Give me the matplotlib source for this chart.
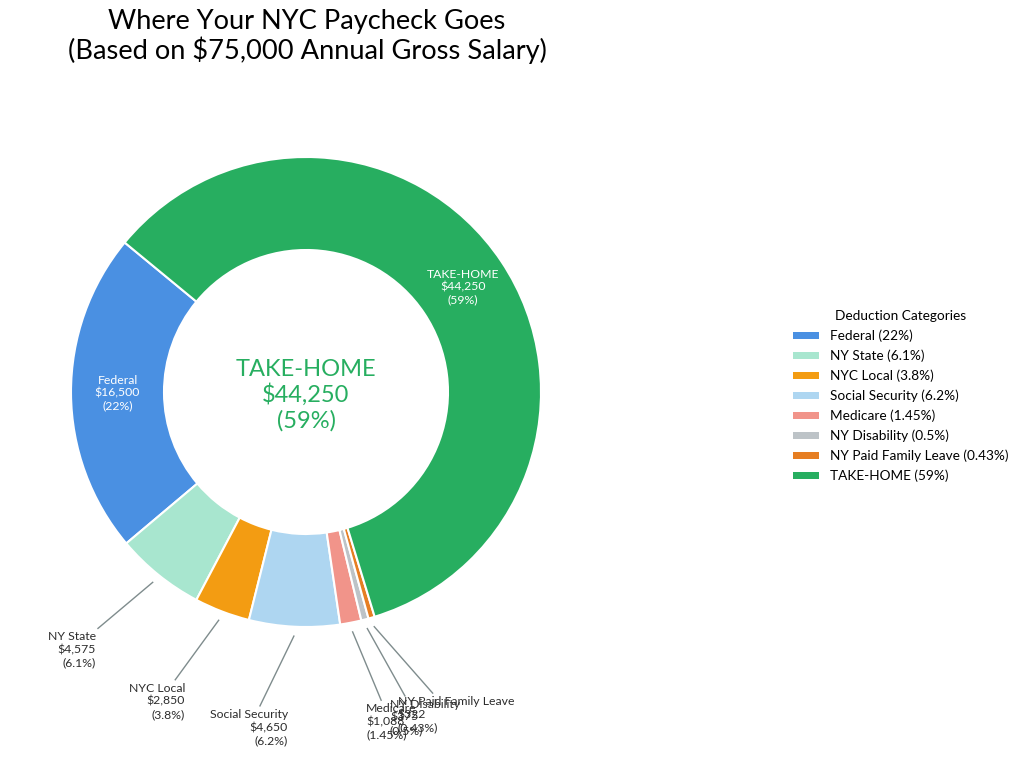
import matplotlib
matplotlib.use('Agg')
import matplotlib.pyplot as plt
import numpy as np

plt.rcParams['font.family'] = ['Lato', 'DejaVu Sans']

# ---- data ----
categories = ['Federal', 'NY State', 'NYC Local', 'Social Security', 'Medicare',
              'NY Disability', 'NY Paid Family Leave', 'TAKE-HOME']
amounts = [16500, 4575, 2850, 4650, 1088, 375, 322, 44250]
pct_labels = ['22%', '6.1%', '3.8%', '6.2%', '1.45%', '0.5%', '0.43%', '59%']
colors = ['#4A90E2', '#A8E6CF', '#F39C12', '#AED6F1', '#F1948A', '#BDC3C7',
          '#E67E22', '#27AE60']
title = 'Where Your NYC Paycheck Goes\n(Based on $75,000 Annual Gross Salary)'
legend_title = 'Deduction Categories'

# ---- layout (pixels) ----
W, H = 1024, 758
cx, cy, R, r_in = 306, 392, 235, 142
inside = {0, 7}
# outside label layout for indices 1..6
ang_shift = {1: -2.5, 2: -3.5, 3: -5.5, 4: 2.7, 5: 3.5, 6: 6.6}
r_end = {1: 1.34, 2: 1.345, 3: 1.35, 4: 1.35, 5: 1.36, 6: 1.39}
text_dx = {1: -2, 2: 10, 3: 28, 4: -15, 5: -15, 6: -35}

fig = plt.figure(figsize=(W / 100, H / 100), dpi=100)
ax = fig.add_axes([(cx - R) / W, (H - cy - R) / H, 2 * R / W, 2 * R / H])
wedges, _ = ax.pie(amounts, colors=colors, startangle=140.5, counterclock=True,
                   radius=1, wedgeprops=dict(width=1 - r_in / R,
                                             edgecolor='white', linewidth=1.5))
ax.set_xlim(-1, 1)
ax.set_ylim(-1, 1)
ax.set_aspect('equal')
ax.axis('off')

px2pt = 0.72
for i, w in enumerate(wedges):
    mid = np.deg2rad((w.theta1 + w.theta2) / 2)
    txt = f"{categories[i]}\n${amounts[i]:,}\n({pct_labels[i]})"
    if i in inside:
        rr = (1 + r_in / R) / 2
        ax.text(rr * np.cos(mid), rr * np.sin(mid), txt, ha='center', va='center',
                color='white', fontsize=8.8, linespacing=1.2)
    else:
        a1 = mid + np.deg2rad(ang_shift[i])
        x0, y0 = 1.04 * np.cos(mid), 1.04 * np.sin(mid)
        x1, y1 = r_end[i] * np.cos(a1), r_end[i] * np.sin(a1)
        ax.plot([x0, x1], [y0, y1], color='#7f8c8d', lw=1, clip_on=False)
        ha = 'right' if x1 < 0 else 'left'
        ax.annotate(txt, (x1, y1), xytext=(text_dx[i] * px2pt, -3 * px2pt),
                    textcoords='offset points', ha=ha, va='top',
                    multialignment=ha, fontsize=8.8, color='#2c2c2c',
                    linespacing=1.22, annotation_clip=False)

# centre text
ax.text(0, -3 / R, f"{categories[7]}\n${amounts[7]:,}\n({pct_labels[7]})",
        ha='center', va='center', color=colors[7], fontsize=17, linespacing=1.2)

fig.text(307 / W, 1 - 9 / H, title, ha='center', va='top', fontsize=19.6,
         linespacing=1.13, color='black')

handles = wedges
labels = [f"{c} ({p})" for c, p in zip(categories, pct_labels)]
leg = fig.legend(handles, labels, title=legend_title, loc='upper left',
                 bbox_to_anchor=(793 / W, 1 - 310 / H), frameon=False,
                 fontsize=9.8, title_fontsize=9.8, borderpad=0, borderaxespad=0,
                 handlelength=1.9, handleheight=0.45, handletextpad=0.8,
                 labelspacing=0.55)
for h in leg.legend_handles:
    h.set_edgecolor('none')

fig.savefig('out.png', dpi=100, facecolor='white')
